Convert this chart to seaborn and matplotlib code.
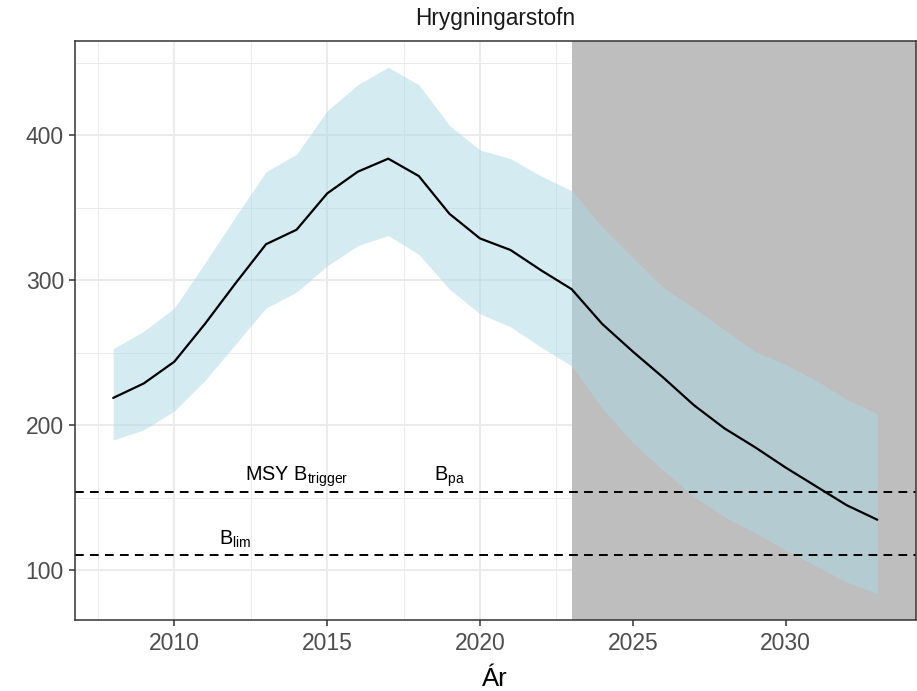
import matplotlib
matplotlib.use('Agg')
import numpy as np
import pandas as pd
import matplotlib.pyplot as plt
from matplotlib.ticker import MultipleLocator
import seaborn as sns

# hrygningarstofn, miðgildi og óvissubil
years = list(range(2008, 2034))
ssb = [219, 229, 244, 270, 298, 325, 335, 360, 375, 384, 372, 346, 329,
       321, 307, 294, 270, 251, 233, 214, 198, 185, 171, 158, 145, 135]
ssb_low = [190, 197, 210, 231, 256, 281, 292, 310, 324, 331, 318, 294, 277,
           268, 254, 241, 212, 188, 169, 151, 137, 126, 114, 103, 92, 84]
ssb_high = [253, 265, 281, 312, 344, 375, 387, 417, 435, 447, 435, 407, 390,
            384, 372, 362, 337, 316, 295, 281, 266, 251, 242, 231, 218, 208]
proj_start = 2023

ref_labels = [r'MSY B$_{trigger}$', r'B$_{pa}$', r'B$_{lim}$']
ref_values = [154, 154, 111]
ref_label_x = [2014, 2019, 2012]

df = pd.DataFrame({'ar': years, 'ssb': ssb, 'lo': ssb_low, 'hi': ssb_high})

sns.set_theme(style='whitegrid')
plt.rcParams['font.family'] = ['Liberation Sans', 'DejaVu Sans']
plt.rcParams['mathtext.default'] = 'regular'

fig = plt.figure(figsize=(9.17, 6.91), dpi=100)
ax = fig.add_axes([75/917, 1 - 620/691, 840.5/917, 579/691])

ax.axvspan(proj_start, 2100, color='#BEBEBE', lw=0, zorder=2)
ax.fill_between(df.ar, df.lo, df.hi, color='#ADD8E6', alpha=0.5, lw=0, zorder=3)
sns.lineplot(data=df, x='ar', y='ssb', color='black', lw=1.6, ax=ax, zorder=4)

for v in sorted(set(ref_values)):
    ax.axhline(v, color='black', lw=1.4, ls=(0, (4.5, 3.2)), zorder=5)
for lab, v, x in zip(ref_labels, ref_values, ref_label_x):
    off = 8 if v > 120 else 6.7
    ax.text(x, v + off, lab, ha='center', va='baseline', fontsize=14.3,
            color='black', zorder=6)

xr = df.ar.max() - df.ar.min()
ax.set_xlim(df.ar.min() - 0.05*xr, df.ar.max() + 0.05*xr)
yr = df.hi.max() - df.lo.min()
ax.set_ylim(df.lo.min() - 0.05*yr, df.hi.max() + 0.05*yr)

ax.xaxis.set_major_locator(MultipleLocator(5))
ax.xaxis.set_minor_locator(MultipleLocator(2.5))
ax.yaxis.set_major_locator(MultipleLocator(100))
ax.yaxis.set_minor_locator(MultipleLocator(50))
ax.set_axisbelow(True)
ax.grid(which='major', color='#EBEBEB', lw=1.4)
ax.grid(which='minor', color='#EBEBEB', lw=0.7)
ax.tick_params(which='minor', length=0)
ax.tick_params(which='major', length=4, width=1.1, color='#333333',
               labelsize=16.5, labelcolor='#4D4D4D', pad=4)
ax.tick_params(axis='x', which='major', bottom=True, pad=5)
ax.tick_params(axis='y', which='major', left=True)
for s in ax.spines.values():
    s.set_color('#333333')
    s.set_linewidth(1.1)
    s.set_zorder(7)

ax.set_title('Hrygningarstofn', fontsize=16.3, color='#1A1A1A', pad=11.5)
ax.set_xlabel('Ár', fontsize=18.5, color='black', labelpad=8)
ax.set_ylabel('')

fig.savefig('out.png', dpi=100)
